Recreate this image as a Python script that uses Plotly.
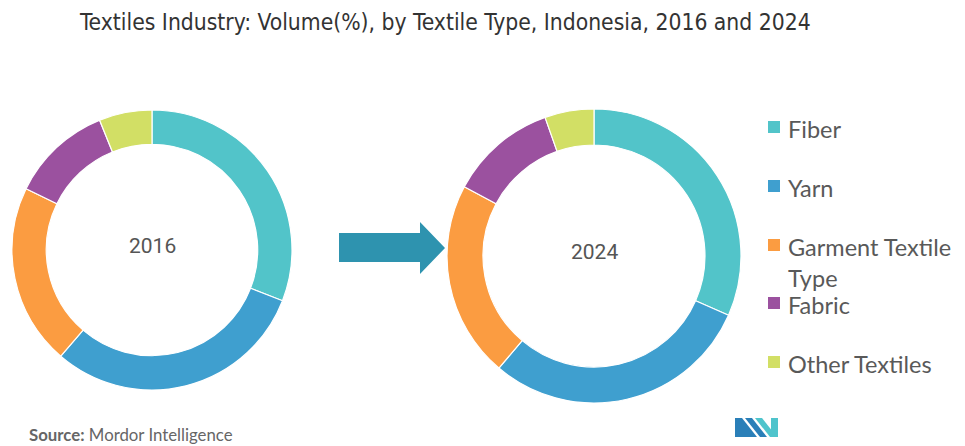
import plotly.graph_objects as go

W, H = 965, 446

labels = ["Fiber", "Yarn", "Garment Textile Type", "Fabric", "Other Textiles"]
legend_labels = ["Fiber", "Yarn", "Garment Textile<br>Type", "Fabric", "Other Textiles"]
values_2016 = [30.9, 30.4, 20.9, 11.7, 6.1]
values_2024 = [31.6, 29.6, 21.6, 11.8, 5.4]
years = ["2016", "2024"]
colors = ["#52C4C9", "#3F9FCF", "#FB9C41", "#9B519F", "#D2DF65"]

title_text = "Textiles Industry: Volume(%), by Textile Type, Indonesia, 2016 and 2024"


def px(x):
    return x / W


def py(y):
    return 1 - y / H


def pie_domain(cx, cy, r):
    return dict(x=[px(cx - r), px(cx + r)], y=[py(cy + r), py(cy - r)])


centers = [(152, 250, 140), (594, 256, 147)]

fig = go.Figure()
for vals, (cx, cy, r) in zip([values_2016, values_2024], centers):
    fig.add_trace(go.Pie(
        labels=labels, values=vals, hole=0.755, sort=False,
        direction="clockwise", rotation=0, textinfo="none",
        marker=dict(colors=colors, line=dict(color="white", width=1.2)),
        domain=pie_domain(cx, cy, r), showlegend=False, hoverinfo="label+percent",
    ))

annotations = []
# center labels
for yr, (cx, cy, r) in zip(years, centers):
    annotations.append(dict(
        x=px(cx), y=py(cy - 4), xref="paper", yref="paper", text=yr, showarrow=False,
        font=dict(family="Roboto", size=21, color="#555555"), xanchor="center", yanchor="middle"))

# title
annotations.append(dict(
    x=px(77), y=py(22), xref="paper", yref="paper", text=title_text, showarrow=False,
    font=dict(family="DejaVu Sans Condensed, Liberation Sans Narrow", size=22.7, color="#333333"),
    xanchor="left", yanchor="middle"))

# source
annotations.append(dict(
    x=px(27), y=py(434), xref="paper", yref="paper",
    text="<b>Source:</b> Mordor Intelligence", showarrow=False,
    font=dict(family="Lato", size=16.8, color="#666666"), xanchor="left", yanchor="middle"))

shapes = []
# legend (manual)
leg_y = [127, 186, 245, 303, 362]
for lab, col, yy in zip(legend_labels, colors, leg_y):
    shapes.append(dict(type="rect", xref="paper", yref="paper",
                       x0=px(768), x1=px(780), y0=py(yy + 6), y1=py(yy - 6),
                       fillcolor=col, line=dict(width=0)))
    annotations.append(dict(
        x=px(786), y=py(yy - 14), xref="paper", yref="paper", text=lab, showarrow=False,
        font=dict(family="Lato", size=23.5, color="#595959"), xanchor="left", yanchor="top",
        align="left"))

# arrow
def path(points):
    return "M " + " L ".join(f"{px(x):.5f},{py(y):.5f}" for x, y in points) + " Z"

arrow_pts = [(339, 233), (420, 233), (420, 222), (445, 248), (420, 274), (420, 262), (339, 262)]
shapes.append(dict(type="path", xref="paper", yref="paper", path=path(arrow_pts),
                   fillcolor="#2E93AF", line=dict(width=0)))

# logo
shapes.append(dict(type="path", xref="paper", yref="paper",
                   path=path([(735, 437), (735, 418), (742, 418), (757, 437)]),
                   fillcolor="#2A7FB8", line=dict(width=0)))
shapes.append(dict(type="path", xref="paper", yref="paper",
                   path=path([(745, 418), (752, 418), (767, 437), (760, 437)]),
                   fillcolor="#2A7FB8", line=dict(width=0)))
shapes.append(dict(type="path", xref="paper", yref="paper",
                   path=path([(755, 418), (762, 418), (777, 437), (770, 437)]),
                   fillcolor="#4FC4CC", line=dict(width=0)))
shapes.append(dict(type="rect", xref="paper", yref="paper",
                   x0=px(771), x1=px(778), y0=py(437), y1=py(418),
                   fillcolor="#4FC4CC", line=dict(width=0)))

fig.update_layout(
    width=W, height=H, margin=dict(l=0, r=0, t=0, b=0),
    paper_bgcolor="white", plot_bgcolor="white",
    annotations=annotations, shapes=shapes,
)

fig.write_html(
    "out.html",
    config={"displayModeBar": False},
    post_script="document.body.style.margin='0';document.body.style.overflow='hidden';",
)
